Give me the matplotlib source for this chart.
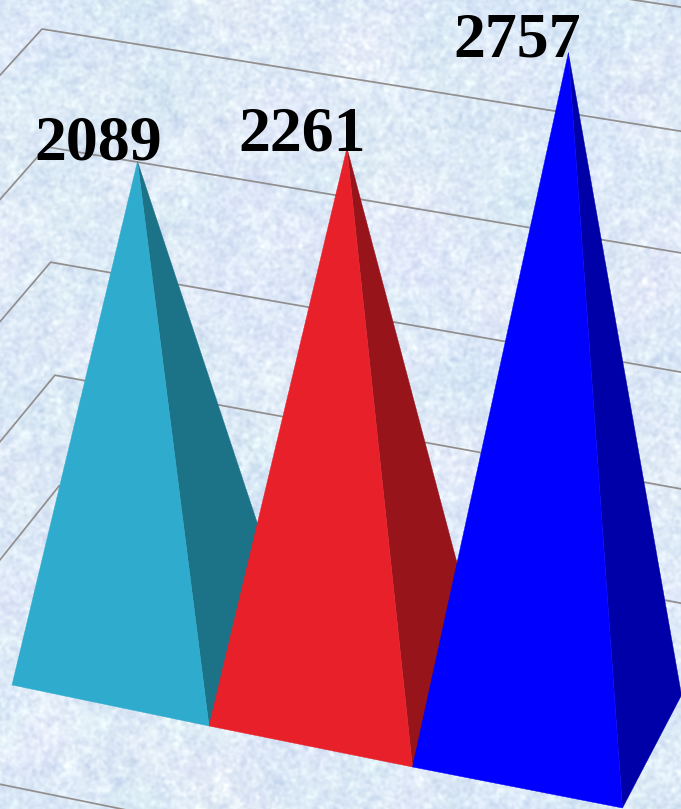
import numpy as np
import matplotlib.pyplot as plt
from matplotlib.patches import Polygon

values = [2089, 2261, 2757]
labels = ["2089", "2261", "2757"]
front_colors = ["#2EABCD", "#E8202A", "#0000FF"]
side_colors = ["#1C7388", "#96141A", "#0000A8"]
grid_ticks = [3500, 3000, 2500, 2000, 1500, 1000]

W, H = 681, 809


# category position u, depth d, value v -> picture position
def project(u, d, v=0):
    x = 12 + 193.75 * u + 3.25 * u ** 2 + d * (89 - 10 * u)
    y = 685 + 41 * u - d * (109 + 1.3 * u)
    h = v * (0.2402 + 0.006 * (u - 1.5))
    return x + 0.029 * (u - 1.5) * h, y - h


# wall corner of a gridline, lines get closer going down
def wall_corner(tick):
    t = (3000 - tick) / 500
    return 42 + 4.3 * t, 29 + 119 * t - 1.2 * t ** 2, t


# blue marble paper, only a backdrop so seeded noise is fine here
def paper(w, h):
    rng = np.random.default_rng(7)
    fx = np.fft.fftfreq(w)[None, :]
    fy = np.fft.fftfreq(h)[:, None]
    r = np.sqrt(fx ** 2 + fy ** 2)

    def blur(sigma):
        n = rng.standard_normal((h, w))
        out = np.fft.ifft2(np.fft.fft2(n) * np.exp(-2 * (np.pi * r * sigma) ** 2)).real
        return out / out.std()

    fine = blur(1.5)
    mid = blur(4.5)
    big = blur(28)
    pink = blur(20)
    img = np.zeros((h, w, 3))
    img[..., 0] = 222 + 6 * fine + 3 * mid - 2 * big + 2 * pink
    img[..., 1] = 234 + 5 * fine + 3 * mid - 1 * big
    img[..., 2] = 247 + 3 * fine + 1 * mid + 1 * pink
    return np.clip(img, 0, 255) / 255


fig = plt.figure(figsize=(W / 100, H / 100), dpi=100)
ax = fig.add_axes([0, 0, 1, 1])
ax.imshow(paper(W, H), extent=(0, W, H, 0), aspect="auto", zorder=0)
ax.set_xlim(0, W)
ax.set_ylim(H, 0)
ax.axis("off")

for tick in grid_ticks:
    cx, cy, t = wall_corner(tick)
    slope = 0.16 + 0.0072 * t
    left = 1.1 + 0.0375 * t
    ax.plot([0, cx, W], [cy + left * cx, cy, cy + slope * (W - cx)],
            color="#918E8E", lw=1.25, zorder=1, solid_joinstyle="miter")

# floor edge in front of the pyramids
us = np.array([0, 1.5])
fl_x, fl_y = project(us, -0.8)
ax.plot(fl_x, fl_y, color="#918E8E", lw=1.25, zorder=1)

label_dy = [-2, 3, 4]
for i, val in enumerate(values):
    fl = project(i, 0)
    fr = project(i + 1, 0)
    br = project(i + 1, 1)
    apex = project(i + 0.5, 0.5, val)
    ax.add_patch(Polygon([apex, fr, br], closed=True, fc=side_colors[i], ec=side_colors[i], lw=0.3, zorder=2 + i))
    ax.add_patch(Polygon([apex, fl, fr], closed=True, fc=front_colors[i], ec=front_colors[i], lw=0.3, zorder=2 + i))
    ax.text(apex[0] - 39 - 6 * i, apex[1] + label_dy[i], labels[i], family="Liberation Serif",
            weight="bold", fontsize=46, ha="center", va="baseline", color="black", zorder=10)

fig.savefig("out.png", dpi=100)
